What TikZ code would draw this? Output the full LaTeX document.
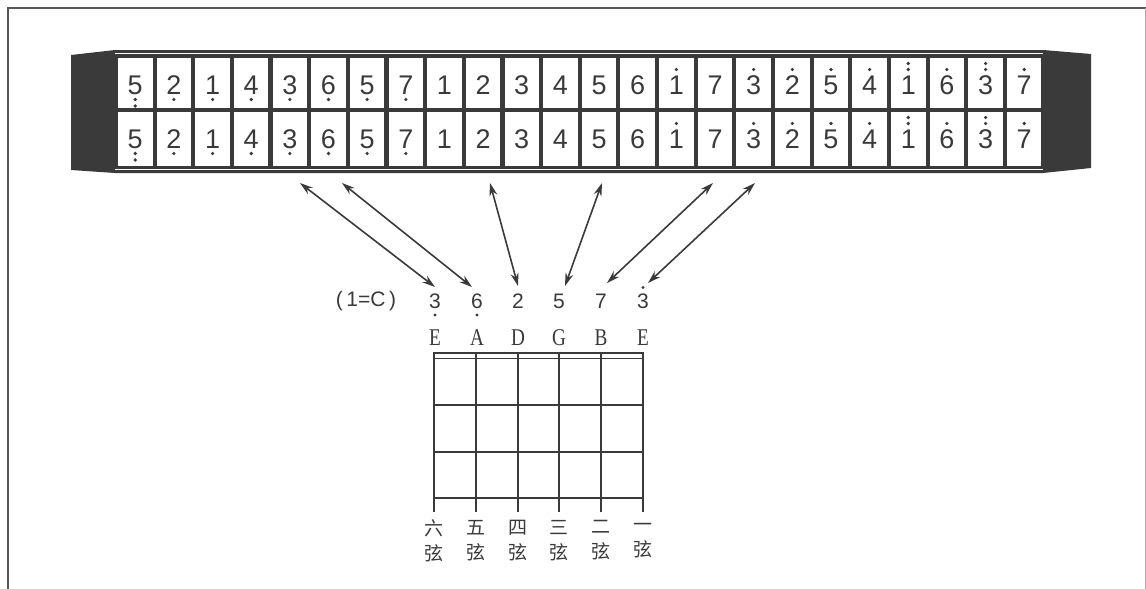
\documentclass[tikz,border=0pt]{standalone}
\usepackage{fontspec}
\setmainfont{Liberation Serif}
\setsansfont{Liberation Sans}
\newfontfamily\cjk{Noto Sans CJK SC}
\usetikzlibrary{arrows.meta}
\definecolor{ink}{HTML}{3A3A3A}
\definecolor{framec}{HTML}{585858}
\begin{document}
\begin{tikzpicture}[x=1pt,y=-1pt,
  hdig/.style={inner sep=0pt,text=ink,font=\sffamily\fontsize{27}{27}\selectfont},
  gdig/.style={inner sep=0pt,text=ink,font=\sffamily\fontsize{21}{21}\selectfont},
  glet/.style={inner sep=0pt,text=ink,font=\rmfamily\fontsize{24}{24}\selectfont},
  gcn/.style={inner sep=0pt,text=ink,align=center,font=\cjk\fontsize{19}{25}\selectfont},
  grid/.style={draw=ink,line width=1.4pt},
  arr/.style={draw=ink,line width=1.6pt,{Stealth[length=13pt,width=8pt]}-{Stealth[length=13pt,width=8pt]}},
  dot/.style={fill=ink}]
\useasboundingbox (0,0) rectangle (1146,589);
% frame
\draw[framec,line width=1.5pt] (8,589) -- (8,8) -- (1146,8);
\draw[framec!50,line width=1pt] (1145,8) -- (1145,589);
% harmonica body
\fill[ink] (71,55) -- (115,50) -- (1043,50) -- (1091,54) -- (1091,168) -- (1043,173) -- (115,173) -- (71,170) -- cycle;
\draw[white,line width=1.2pt] (115,53.6) -- (1043,53.6);
\draw[white,line width=1.2pt] (115,169.8) -- (1043,169.8);
% cells and notes
\foreach \d/\a/\b [count=\i from 0] in {5/0/2,2/0/1,1/0/1,4/0/1,3/0/1,6/0/1,5/0/1,7/0/1,1/0/0,2/0/0,3/0/0,4/0/0,5/0/0,6/0/0,1/1/0,7/0/0,3/1/0,2/1/0,5/1/0,4/1/0,1/2/0,6/1/0,3/2/0,7/1/0}{
  \pgfmathsetmacro\cx{135.25+38.65*\i}
  \fill[white] (\cx-17.25,58) rectangle (\cx+17.25,108.3);
  \fill[white] (\cx-17.25,111.7) rectangle (\cx+17.25,165.8);
  \foreach \r/\yc in {0/85.5,1/139.5}{
    \node[hdig] (h\r-\i) at (\cx,\yc) {\d};
    \ifnum\a>0 \fill[dot] (\cx,\yc-16) circle (1.8); \fi
    \ifnum\a>1 \fill[dot] (\cx,\yc-22) circle (1.8); \fi
    \ifnum\b>0 \fill[dot] (\cx,\yc+14) circle (1.8); \fi
    \ifnum\b>1 \fill[dot] (\cx,\yc+20.5) circle (1.8); \fi
  }
}
% guitar tuning
\node[gdig] (key) at (366,301.5) {(\,1=C\,)};
\foreach \d/\x/\a/\b [count=\k] in {3/435/0/1,6/477/0/1,2/518/0/0,5/559/0/0,7/601/0/0,3/643/1/0}{
  \node[gdig] (g\k) at (\x,301.5) {\d};
  \ifnum\a>0 \fill[dot] (\x,287.5) circle (1.6); \fi
  \ifnum\b>0 \fill[dot] (\x,315) circle (1.6); \fi
}
\foreach \l/\x [count=\k] in {E/435,A/477,D/518,G/559,B/601,E/643}{
  \node[glet] (s\k) at (\x,338) {\scalebox{0.8}[1]{\l}};
}
% fretboard
\draw[grid,line width=2pt] (434,353) -- (643,353);
\draw[grid] (434,358.5) -- (643,358.5);
\foreach \y in {405,452,498}{\draw[grid] (434,\y) -- (643,\y);}
\foreach \x in {434,476,518,559,601,643}{\draw[grid] (\x,352) -- (\x,512);}
\foreach \c/\x [count=\k] in {六/434,五/476,四/518,三/559,二/601,一/643}{
  \node[gcn] (c\k) at (\x,540.5) {\c\\弦};
}
% arrows
\coordinate (t1) at (300,183); \coordinate (b1) at (435,287);
\coordinate (t2) at (342,183); \coordinate (b2) at (472,287);
\coordinate (t3) at (490,183); \coordinate (b3) at (518,286);
\coordinate (t4) at (602,183); \coordinate (b4) at (565,286);
\coordinate (t5) at (713,183); \coordinate (b5) at (607,283);
\coordinate (t6) at (755,183); \coordinate (b6) at (648,283);
\foreach \k in {1,...,6}{\draw[arr] (t\k) -- (b\k);}
\end{tikzpicture}
\end{document}
